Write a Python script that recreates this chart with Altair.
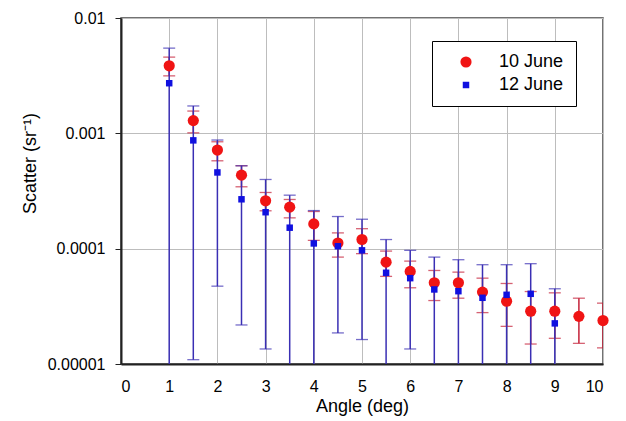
import altair as alt
import pandas as pd

# ---- data ----
angles_red = [1, 1.5, 2, 2.5, 3, 3.5, 4, 4.5, 5, 5.5, 6, 6.5, 7, 7.5, 8, 8.5, 9, 9.5, 10]
red_val = [0.00385, 0.00129, 0.000716, 0.000434, 0.00026, 0.000229, 0.000164, 0.000112,
           0.00012, 7.64e-5, 6.35e-5, 5.06e-5, 5.06e-5, 4.2e-5, 3.5e-5, 2.87e-5, 2.87e-5,
           2.59e-5, 2.38e-5]
red_lo = [0.00315, 0.00101, 0.000578, 0.000344, 0.000213, 0.000185, 0.000118, 8.45e-5,
          9.05e-5, 5.75e-5, 4.58e-5, 3.55e-5, 3.72e-5, 2.79e-5, 2.12e-5, 1.49e-5, 1.67e-5,
          1.51e-5, 1.38e-5]
red_hi = [0.00458, 0.00156, 0.000845, 0.000524, 0.000307, 0.000267, 0.00021, 0.000137,
          0.000149, 9.53e-5, 7.8e-5, 6.47e-5, 6.26e-5, 5.55e-5, 4.99e-5, 4.25e-5, 4.14e-5,
          3.72e-5, 3.37e-5]

angles_blue = [1, 1.5, 2, 2.5, 3, 3.5, 4, 4.5, 5, 5.5, 6, 6.5, 7, 7.5, 8, 8.5, 9]
blue_val = [0.00272, 0.000869, 0.000458, 0.000268, 0.000207, 0.000152, 0.000111, 0.000105,
            9.67e-5, 6.18e-5, 5.55e-5, 4.43e-5, 4.28e-5, 3.75e-5, 3.98e-5, 4.06e-5, 2.25e-5]
# 0 = lower end of the error bar at or below zero (runs off the bottom of the log axis)
blue_lo = [0, 1.09e-5, 4.73e-5, 2.18e-5, 1.35e-5, 0, 0, 1.86e-5, 1.63e-5, 0, 1.35e-5,
           0, 0, 0, 0, 0, 0]
blue_hi = [0.00548, 0.001727, 0.000875, 0.000523, 0.000398, 0.000291, 0.000214, 0.00019,
           0.00018, 0.00012, 9.67e-5, 8.45e-5, 8.02e-5, 7.26e-5, 7.26e-5, 7.41e-5, 4.49e-5]

series_names = ["10 June", "12 June"]
y_ticks = [0.00001, 0.0001, 0.001, 0.01]
x_ticks = list(range(0, 11))

FLOOR = 1e-7  # stand-in for non-positive values on the log axis (clipped)

red = pd.DataFrame({"angle": angles_red, "val": red_val, "lo": red_lo, "hi": red_hi,
                    "series": series_names[0]})
blue = pd.DataFrame({"angle": angles_blue, "val": blue_val, "lo": blue_lo, "hi": blue_hi,
                     "series": series_names[1]})
for d in (red, blue):
    d["lo"] = d["lo"].clip(lower=FLOOR)
pts = pd.concat([red, blue], ignore_index=True)

FONT = "Liberation Sans"
RED_BAR = "#c42038"
BLUE_BAR = "#3a2fb4"

x_enc = alt.X("angle:Q",
              scale=alt.Scale(domain=[0, 10], nice=False),
              axis=alt.Axis(values=x_ticks, title="Angle (deg)", format="d",
                            tickSize=0, labelPadding=14, titlePadding=3,
                            grid=True))
y_scale = alt.Scale(type="log", domain=[0.00001, 0.01], nice=False)
y_axis = alt.Axis(values=y_ticks, format=".5~f", title="Scatter (sr⁻¹)",
                  tickSize=6, labelPadding=10, grid=True,
                  titleX=-91, titleY=145, titleAngle=-90,
                  titleAlign="center", titleBaseline="middle")


def bars(df, color):
    rule = alt.Chart(df).mark_rule(color=color, strokeWidth=1.5, clip=True).encode(
        x=x_enc, y=alt.Y("lo:Q", scale=y_scale, axis=y_axis), y2="hi:Q")
    cap_lo = alt.Chart(df).mark_tick(color=color, orient="horizontal", size=12,
                                     thickness=1.3, clip=True).encode(
        x="angle:Q", y=alt.Y("lo:Q", scale=y_scale))
    cap_hi = alt.Chart(df).mark_tick(color=color, orient="horizontal", size=12,
                                     thickness=1.3, clip=True).encode(
        x="angle:Q", y=alt.Y("hi:Q", scale=y_scale))
    return rule + cap_lo + cap_hi


points = alt.Chart(pts).mark_point(filled=True, opacity=1, strokeWidth=0).encode(
    x="angle:Q",
    y=alt.Y("val:Q", scale=y_scale),
    color=alt.Color("series:N", scale=alt.Scale(domain=series_names,
                                                range=["#f01414", "#1010e0"]),
                    legend=alt.Legend(title=None, orient="none", legendX=311, legendY=23,
                                      strokeColor="black", fillColor="white", padding=12,
                                      labelFontSize=18, labelFont=FONT, labelColor="black",
                                      symbolOffset=13, labelOffset=24, rowPadding=5,
                                      cornerRadius=0)),
    shape=alt.Shape("series:N", scale=alt.Scale(domain=series_names,
                                                range=["circle", "square"])),
    size=alt.Size("series:N", scale=alt.Scale(domain=series_names, range=[125, 42])),
)

chart = alt.layer(bars(red, RED_BAR), bars(blue, BLUE_BAR), points).properties(
    width=482, height=346,
    padding={"left": 113, "top": 10, "right": 15, "bottom": 56},
    autosize=alt.AutoSizeParams(type="none"),
).configure_view(
    stroke="#444444", strokeWidth=1.5
).configure_axis(
    labelFont=FONT, titleFont=FONT, labelFontSize=16, titleFontSize=18,
    labelColor="black", titleColor="black", titleFontWeight="normal",
    domainColor="#222222", domainWidth=2, tickColor="#222222",
    gridColor="#bdbdbd", gridWidth=1
)

chart.save("out.html", embed_options={"renderer": "svg", "actions": False})
